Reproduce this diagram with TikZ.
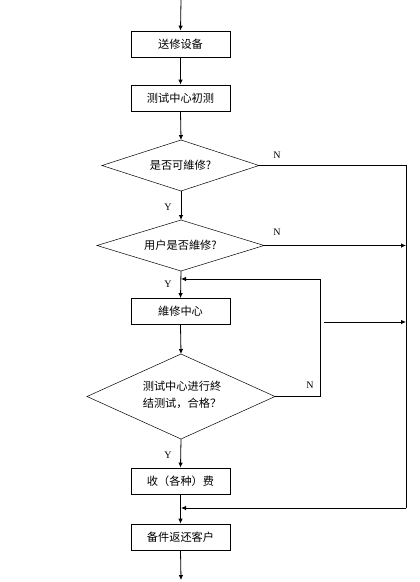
\documentclass[tikz,border=0pt]{standalone}
\usepackage{fontspec}
\newfontfamily\cjk{Noto Sans CJK SC}
\newfontfamily\lat{Liberation Serif}
\usetikzlibrary{arrows.meta}
\begin{document}
\begin{tikzpicture}[x=1pt,y=-1pt,
  box/.style={draw,line width=0.8pt,minimum width=99pt,minimum height=26pt,inner sep=0pt,font=\cjk\fontsize{11.2}{12}\selectfont},
  dtext/.style={font=\cjk\fontsize{11.2}{12}\selectfont},
  dec/.style={draw,line width=0.5pt},
  lbl/.style={font=\lat\fontsize{10}{10}\selectfont,inner sep=0pt},
  arr/.style={line width=0.8pt,-{Latex[length=5pt,width=4.5pt]}},
  ln/.style={line width=0.8pt}]
\useasboundingbox (0,0) rectangle (420,582);
\coordinate (top) at (181,0);
\node[box] (b1) at (180.5,44) {送修设备};
\node[box] (b2) at (180.5,98) {测试中心初测};
\coordinate (d1t) at (181,140); \coordinate (d1r) at (259,165.5);
\coordinate (d1b) at (181,191); \coordinate (d1l) at (102,165.5);
\draw[dec] (d1t) -- (d1r) -- (d1b) -- (d1l) -- cycle;
\node[dtext] (d1) at (180.5,165.5) {是否可維修?};
\coordinate (d2t) at (181,220); \coordinate (d2r) at (264,245.5);
\coordinate (d2b) at (181,271); \coordinate (d2l) at (97,245.5);
\draw[dec] (d2t) -- (d2r) -- (d2b) -- (d2l) -- cycle;
\node[dtext] (d2) at (180.5,245.5) {用户是否維修?};
\node[box] (b3) at (180.5,311.5) {維修中心};
\coordinate (d3t) at (181,354); \coordinate (d3r) at (275,396.5);
\coordinate (d3b) at (181,439); \coordinate (d3l) at (87,396.5);
\draw[dec] (d3t) -- (d3r) -- (d3b) -- (d3l) -- cycle;
\node[font=\cjk\fontsize{11.2}{17}\selectfont,align=left] (d3) at (182,395) {测试中心进行終\\结测试，合格？};
\node[box] (b4) at (180.5,481) {收（各种）费};
\node[box] (b5) at (180.5,537) {备件返还客户};
\coordinate (bot) at (181,580);
% main flow
\draw[arr] (top) -- (b1.north);
\draw[arr] (b1.south) -- (b2.north);
\draw[arr] (b2.south) -- (d1t);
\draw[arr] (d1b) -- (d2t);
\draw[arr] (d2b) -- (b3.north);
\draw[arr] (b3.south) -- (d3t);
\draw[arr] (d3b) -- (b4.north);
\draw[arr] (b4.south) -- (b5.north);
\draw[arr] (b5.south) -- (bot);
% right bus
\coordinate (r1) at (406,165.5);
\coordinate (r2) at (406,245.5);
\coordinate (r3) at (406,322);
\coordinate (r4) at (406,508);
\coordinate (m4) at (181,508);
\draw[ln] (d1r) -- (r1) -- (r4);
\draw[arr] (r4) -- (m4);
\draw[arr] (d2r) -- (r2);
\coordinate (f1) at (324,322);
\draw[arr] (f1) -- (r3);
% loop back
\coordinate (l1) at (320,396.5);
\coordinate (l2) at (320,279);
\coordinate (m2) at (181,279);
\draw[ln] (d3r) -- (l1) -- (l2);
\draw[arr] (l2) -- (m2);
% labels
\node[lbl] (n1) at (277,155) {N};
\node[lbl] (y1) at (168,207) {Y};
\node[lbl] (n2) at (277,232) {N};
\node[lbl] (y2) at (168,284) {Y};
\node[lbl] (n3) at (310,385) {N};
\node[lbl] (y3) at (168,455) {Y};
\end{tikzpicture}
\end{document}
